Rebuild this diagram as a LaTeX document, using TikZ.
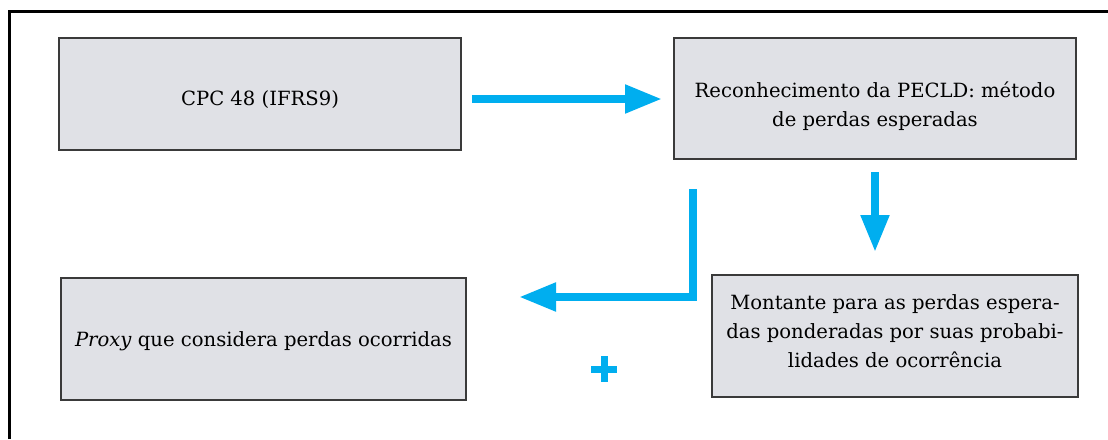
\documentclass[tikz,border=0pt]{standalone}
\usepackage{fontspec}
\setmainfont{DejaVu Serif}
\usetikzlibrary{arrows.meta}
\definecolor{boxfill}{HTML}{E0E1E6}
\definecolor{boxline}{HTML}{3A3A3A}
\definecolor{arrcyan}{HTML}{00AEEF}
\tikzset{
  stepbox/.style={draw=boxline, fill=boxfill, line width=1.5pt, inner sep=0pt},
  boxtext/.style={align=center, inner sep=0pt, font=\fontsize{19.6}{29}\selectfont},
  arr/.style={draw=arrcyan, line width=8pt,
    -{Triangle[length=37pt,width=27pt]}},
}
\begin{document}
\begin{tikzpicture}[x=1pt,y=-1pt]
\useasboundingbox (0,0) rectangle (1108,439);
\fill[white] (0,0) rectangle (1108,439);
\draw[black, line width=3pt] (9,439) -- (9,11) -- (1108,11);
\node[stepbox, minimum width=402pt, minimum height=112pt] (b1) at (260,94) {};
\node[stepbox, minimum width=402pt, minimum height=121pt] (b2) at (875,98.5) {};
\node[stepbox, minimum width=366pt, minimum height=122pt] (b3) at (895,336) {};
\node[stepbox, minimum width=405pt, minimum height=122pt] (b4) at (263.5,339) {};
\node[boxtext] (t1) at ([yshift=-6pt]b1.center) {CPC 48 (IFRS9)};
\node[boxtext] (t2) at ([yshift=-8pt]b2.center) {Reconhecimento da PECLD: método\\de perdas esperadas};
\node[boxtext] (t3) at ([yshift=5pt]b3.center) {Montante para as perdas espera-\\das ponderadas por suas probabi-\\lidades de ocorrência};
\node[boxtext] (t4) at ([yshift=-2pt]b4.center) {\textit{Proxy} que considera perdas ocorridas};
\coordinate (a1s) at (472,99);
\coordinate (a1e) at (662,99);
\coordinate (a2s) at (875,172);
\coordinate (a2e) at (875,252);
\coordinate (a3s) at (693,189);
\coordinate (a3c) at (693,297);
\coordinate (a3e) at (519,297);
\draw[arr] (a1s) -- (a1e);
\draw[arr] (a2s) -- (a2e);
\draw[arr, line join=miter] (a3s) -- (a3c) -- (a3e);
\draw[arrcyan, line width=7pt] (591,369) -- (617,369) (604,356) -- (604,382);
\end{tikzpicture}
\end{document}
